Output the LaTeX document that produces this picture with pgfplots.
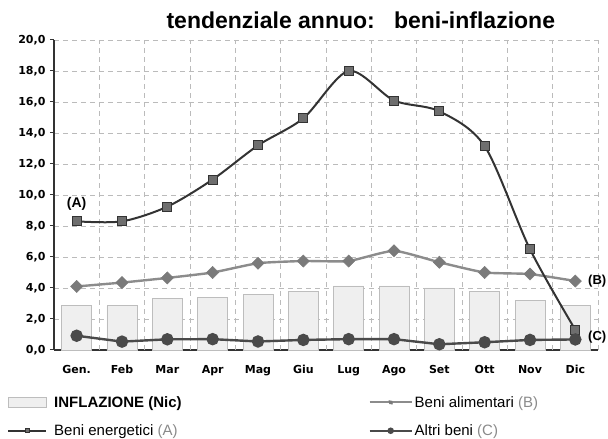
\documentclass[border=0pt]{standalone}
\usepackage{pgfplots}
\pgfplotsset{compat=1.18}
\usepackage{pgfplotstable}
\usepackage{fontspec}
\setmainfont{DejaVu Sans}
\newfontfamily\titlefont{Liberation Sans}
\definecolor{cA}{HTML}{333333}
\definecolor{cAm}{HTML}{6E6E6E}
\definecolor{cB}{HTML}{8C8C8C}
\definecolor{cBm}{HTML}{7A7A7A}
\definecolor{cC}{HTML}{4A4A4A}
\definecolor{barfill}{HTML}{EFEFEF}
\definecolor{bardraw}{HTML}{BDBDBD}
\definecolor{gridc}{HTML}{BBBBBB}
\definecolor{labgray}{HTML}{8A8A8A}
\pgfplotstableread{
x A B C I
0 8.3 4.1 0.92 2.85
1 8.3 4.35 0.54 2.85
2 9.25 4.65 0.69 3.35
3 11.0 5.0 0.7 3.37
4 13.2 5.6 0.55 3.6
5 14.95 5.74 0.65 3.76
6 18.0 5.74 0.7 4.13
7 16.1 6.4 0.7 4.13
8 15.4 5.66 0.37 4.0
9 13.15 5.0 0.5 3.76
10 6.5 4.9 0.65 3.2
11 1.3 4.45 0.68 2.85
}\datatab
\begin{document}
\begin{tikzpicture}
\path[use as bounding box] (-54pt,-89pt) rectangle (554pt,350pt);
\begin{axis}[
  at={(0pt,0pt)}, anchor=south west,
  scale only axis, width=544pt, height=310pt,
  xmin=-0.5, xmax=11.5, ymin=0, ymax=20,
  axis lines=left,
  axis line style={-, line width=1.4pt, color=cA},
  xtick={0,...,11},
  xticklabels={Gen.,Feb,Mar,Apr,Mag,Giu,Lug,Ago,Set,Ott,Nov,Dic},
  x tick style={draw=none},
  extra x ticks={0.5,1.5,...,11.5},
  extra x tick labels={},
  extra x tick style={grid=major, major tick length=5pt, tick style={draw=cA, line width=1pt}},
  ytick={0,2,...,20},
  y tick style={line width=1pt, color=cA},
  major tick length=4pt,
  tick align=outside,
  ymajorgrids,
  major grid style={dash pattern=on 5pt off 4pt, color=gridc, line width=0.8pt},
  /pgf/number format/.cd, fixed, fixed zerofill, precision=1, use comma, assume math mode=true,
  /pgfplots/.cd,
  ticklabel style={font=\fontsize{11}{12}\selectfont\bfseries, color=black},
  xticklabel style={yshift=-8pt},
  yticklabel style={xshift=-1pt},
  clip=false,
  legend columns=2,
  legend cell align=left,
  legend style={at={(-0.0864,-0.142)}, anchor=north west, draw=none, fill=none,
    font=\titlefont\fontsize{15}{17}\selectfont, inner sep=0pt, row sep=12pt,
    /tikz/column 1/.style={column sep=5pt},
    /tikz/column 2/.style={column sep=185pt},
    /tikz/column 3/.style={column sep=0pt}},
]
\addplot[ybar, bar width=30pt, fill=barfill, draw=bardraw, line width=0.8pt,
  legend image code/.code={\draw[fill=barfill,draw=bardraw,line width=0.8pt] (0pt,-5pt) rectangle (38pt,5pt);}]
  table[x=x,y=I]{\datatab};
\addlegendentry{\bfseries INFLAZIONE (Nic)}
\addplot[color=cB, line width=2.4pt, smooth, tension=0.3, mark=square*, mark size=4.3pt,
  mark options={fill=cBm, draw=cBm, line width=0.5pt, rotate=45},
  legend image code/.code={\draw[color=cB, line width=2pt] (0pt,0pt) -- (42pt,0pt);
    \draw[color=cBm, fill=cBm] plot[mark=diamond*, mark size=2.5pt] coordinates {(21pt,0pt)};}]
  table[x=x,y=B]{\datatab};
\addlegendentry{Beni alimentari \textcolor{labgray}{(B)}}
\addplot[color=cA, line width=2pt, smooth, tension=0.5, mark=square*, mark size=4.5pt,
  mark options={fill=cAm, draw=cA, line width=0.8pt},
  legend image code/.code={\draw[color=cA, line width=2pt] (0pt,0pt) -- (38pt,0pt);
    \draw[color=cA, fill=cAm] plot[mark=square*, mark size=2pt] coordinates {(19pt,0pt)};}]
  table[x=x,y=A]{\datatab};
\addlegendentry{Beni energetici \textcolor{labgray}{(A)}}
\addplot[color=cC, line width=2.4pt, mark=*, mark size=5pt,
  mark options={fill=cC, draw=cC},
  legend image code/.code={\draw[color=cC, line width=2pt] (0pt,0pt) -- (42pt,0pt);
    \draw[color=cC, fill=cC] plot[mark=*, mark size=2pt] coordinates {(21pt,0pt)};}]
  table[x=x,y=C]{\datatab};
\addlegendentry{Altri beni \textcolor{labgray}{(C)}}
\node[font=\titlefont\fontsize{14}{15}\selectfont\bfseries] at (axis cs:0,9.45) {(A)};
\node[font=\titlefont\fontsize{13}{14}\selectfont\bfseries, anchor=west, inner sep=0pt] at (axis cs:11.28,4.45) {(B)};
\node[font=\titlefont\fontsize{13}{14}\selectfont\bfseries, anchor=west, inner sep=0pt] at (axis cs:11.28,0.8) {(C)};
\node[font=\titlefont\fontsize{23}{26}\selectfont\bfseries, anchor=base] at (axis description cs:0.564,1) [yshift=11pt] {tendenziale annuo:\ \ \ beni-inflazione};
\end{axis}
\end{tikzpicture}
\end{document}
